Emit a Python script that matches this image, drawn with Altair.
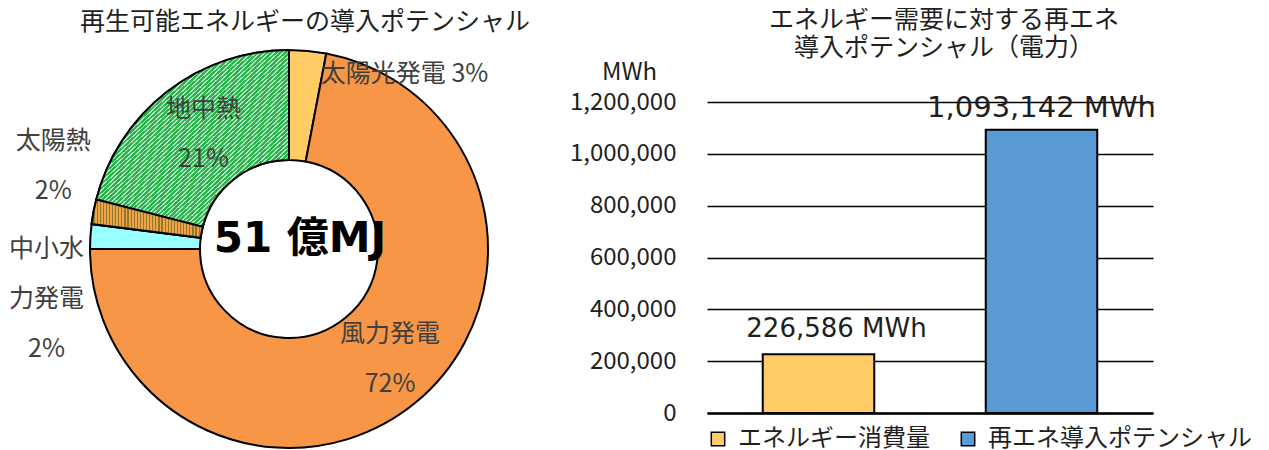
import altair as alt
import pandas as pd

# ---------------- data ----------------
pie_categories = ["太陽光発電", "風力発電", "中小水力発電", "太陽熱", "地中熱"]
pie_shares = [3, 72, 2, 2, 21]
pie_label_names = ["太陽光発電", "風力発電", "中小水\n力発電", "太陽熱", "地中熱"]
pie_label_seps = [" ", "\n", "\n", "\n", "\n"]
pie_colors = ["#FFCC66", "#F79646", "#99FFFF", "#D99A45", "#3DB45E"]

bar_categories = ["エネルギー消費量", "再エネ導入ポテンシャル"]
bar_values = [226586, 1093142]
bar_colors = ["#FFCC66", "#5B9BD5"]
y_ticks = [0, 200000, 400000, 600000, 800000, 1000000, 1200000]

left_title = "再生可能エネルギーの導入ポテンシャル"
right_title = "エネルギー需要に対する再エネ\n導入ポテンシャル（電力）"
center_text = "51 億MJ"
unit = "MWh"

JP = "Noto Sans CJK JP"
LAB = "#404040"
DARK = "#1F1F1F"

pie_df = pd.DataFrame({
    "energy": pie_categories,
    "share": pie_shares,
    "order": list(range(len(pie_categories))),
    "label": [n + s + f"{v}%" for n, s, v in zip(pie_label_names, pie_label_seps, pie_shares)],
})

CX, CY = 280, 147  # donut centre inside the left view
theta_scale = alt.Scale(domain=[0, 100])

pie_base = alt.Chart(pie_df).transform_window(
    cum="sum(share)", sort=[alt.SortField("order")], frame=[None, 0]
).transform_calculate(
    start="datum.cum - datum.share", mid="datum.cum - datum.share / 2"
)

arcs = pie_base.mark_arc(outerRadius=199, innerRadius=89, stroke="black", strokeWidth=2).encode(
    theta=alt.Theta("start:Q", scale=theta_scale),
    theta2="cum:Q",
    color=alt.Color("energy:N", scale=alt.Scale(domain=pie_categories, range=pie_colors), legend=None),
    x=alt.value(CX), y=alt.value(CY),
)


def striped(n, c1, c2, frac, x2, y2):
    st = []
    for i in range(n):
        a, b, c = i / n, (i + frac) / n, (i + 1) / n
        st += [
            alt.GradientStop(offset=a, color=c1),
            alt.GradientStop(offset=b, color=c1),
            alt.GradientStop(offset=b, color=c2),
            alt.GradientStop(offset=c, color=c2),
        ]
    return alt.LinearGradient(gradient="linear", stops=st, x1=0, y1=0, x2=x2, y2=y2)


hatch = striped(85, "#2AB34C", "#B2E8BF", 0.62, 1, 1)   # 地中熱: diagonal hatch
dots = striped(36, "#F2A444", "#8C7A34", 0.62, 1, 0)    # 太陽熱: dotted look


def textured(cat, fill):
    return pie_base.transform_filter(alt.datum.energy == cat).mark_arc(
        outerRadius=199, innerRadius=89, stroke="black", strokeWidth=2, fill=fill
    ).encode(
        theta=alt.Theta("start:Q", scale=theta_scale),
        theta2="cum:Q",
        x=alt.value(CX), y=alt.value(CY),
    )


green = textured("地中熱", hatch)
brown = textured("太陽熱", dots)


def pie_label(cat, radius, dx, dy, align="center"):
    return pie_base.transform_filter(alt.datum.energy == cat).mark_text(
        radius=radius, dx=dx, dy=dy, align=align, baseline="middle",
        font=JP, fontSize=25, color=LAB, lineBreak="\n", lineHeight=50,
    ).encode(
        theta=alt.Theta("mid:Q", scale=theta_scale),
        text="label:N",
        x=alt.value(CX), y=alt.value(CY),
    )


labels = [
    pie_label("太陽光発電", 200, 13, 24, align="left"),
    pie_label("地中熱", 146, 4, -25),
    pie_label("風力発電", 146, 8, -27),
    pie_label("太陽熱", 240, 0, -63),
    pie_label("中小水力発電", 243, 0, 15),
]

center = alt.Chart(pd.DataFrame({"t": [center_text]})).mark_text(
    font="DejaVu Sans, Noto Sans CJK JP", fontSize=42, fontWeight="bold", color="black",
    baseline="middle", align="center",
).encode(text="t:N", x=alt.value(CX + 11), y=alt.value(CY - 10))

ltitle = alt.Chart(pd.DataFrame({"t": [left_title]})).mark_text(
    font=JP, fontSize=25, color=DARK, baseline="middle", align="center"
).encode(text="t:N", x=alt.value(296), y=alt.value(-80))

left = alt.layer(arcs, green, brown, *labels, center, ltitle).properties(width=540, height=311)

# ---------------- bar panel ----------------
bar_df = pd.DataFrame({"source": bar_categories, "value": bar_values})

xenc = alt.X(
    "source:N", sort=bar_categories,
    scale=alt.Scale(paddingInner=0.5, paddingOuter=0.25),
    axis=alt.Axis(labels=False, ticks=False, title=None, domain=True,
                  domainColor="black", domainWidth=2.5, grid=False),
)
yenc = alt.Y(
    "value:Q", scale=alt.Scale(domain=[0, 1200000], nice=False),
    axis=alt.Axis(
        values=y_ticks, format=",.0f", grid=True, gridColor="black", gridWidth=1.5,
        domain=False, ticks=False, tickSize=0, labelPadding=31,
        labelFont=JP, labelFontSize=24, labelColor=DARK,
        title=unit, titleAngle=0, titleX=-78, titleY=-23, titleAlign="center",
        titleBaseline="alphabetic", titleFont=JP, titleFontSize=24,
        titleFontWeight="normal", titleColor=DARK,
    ),
)

bars = alt.Chart(bar_df).mark_bar(stroke="black", strokeWidth=2).encode(
    x=xenc, y=yenc,
    color=alt.Color(
        "source:N", scale=alt.Scale(domain=bar_categories, range=bar_colors),
        legend=alt.Legend(
            title=None, orient="none", legendX=-1, legendY=325, direction="horizontal",
            symbolType="square", symbolSize=180, symbolStrokeColor="black",
            symbolStrokeWidth=1.5, labelFont=JP, labelFontSize=24, labelColor=DARK,
            labelOffset=8, labelLimit=500, columnPadding=26, padding=0,
        ),
    ),
)

bar_text_base = alt.Chart(bar_df).transform_calculate(
    label="format(datum.value, ',') + ' " + unit + "'"
)
t1 = bar_text_base.transform_filter(alt.datum.source == bar_categories[0]).mark_text(
    font="DejaVu Sans", fontSize=26, dx=18, dy=-17, baseline="alphabetic", color=DARK
).encode(x=xenc, y=yenc, text="label:N")
t2 = bar_text_base.transform_filter(alt.datum.source == bar_categories[1]).mark_text(
    font="DejaVu Sans", fontSize=29, dy=-13, baseline="alphabetic", color=DARK
).encode(x=xenc, y=yenc, text="label:N")

rtitle = alt.Chart(pd.DataFrame({"t": [right_title]})).mark_text(
    font=JP, fontSize=25, color=DARK, baseline="middle", align="center",
    lineBreak="\n", lineHeight=28,
).encode(text="t:N", x=alt.value(237), y=alt.value(-82))

right = alt.layer(bars, t1, t2, rtitle).properties(width=446, height=311)

chart = alt.hconcat(left, right, spacing=20).resolve_scale(
    color="independent", theta="independent"
).properties(padding=0).configure_view(stroke=None)

chart.save("out.html", embed_options={"renderer": "svg", "actions": False})
